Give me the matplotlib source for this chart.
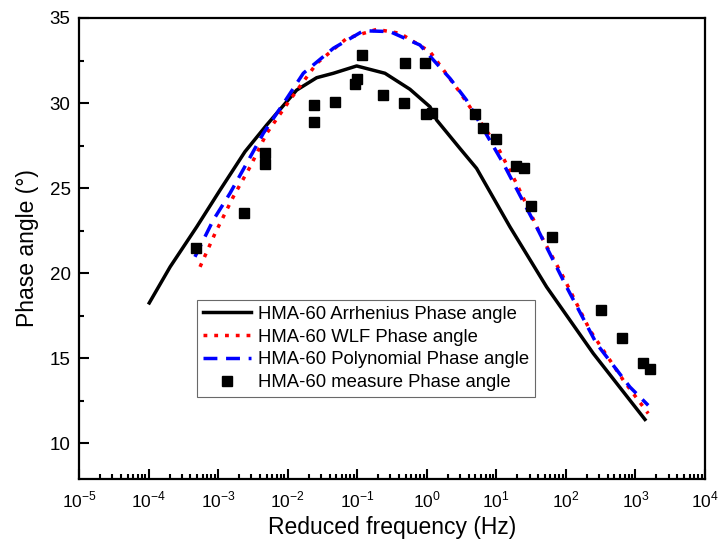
import numpy as np
import matplotlib
matplotlib.use('Agg')
import matplotlib.pyplot as plt
from matplotlib.ticker import FixedLocator, MultipleLocator, NullFormatter

plt.rcParams['font.family'] = ['Liberation Sans', 'DejaVu Sans']
plt.rcParams['mathtext.fontset'] = 'custom'
plt.rcParams['mathtext.rm'] = 'Liberation Sans'

# measured points
meas_f = [4.8e-4, 2.36e-3, 4.68e-3, 4.68e-3, 2.37e-2, 2.37e-2, 4.74e-2, 9.4e-2, 9.8e-2, 0.117,
          0.234, 0.47, 0.49, 0.94, 0.975, 1.2, 4.89, 6.35, 9.77, 19.5, 24.7, 31.8,
          63.8, 316, 640, 1280, 1600]
meas_y = [21.45, 23.51, 27.08, 26.41, 29.86, 28.86, 30.04, 31.1, 31.43, 32.82,
          30.49, 30.02, 32.37, 32.37, 29.33, 29.43, 29.33, 28.51, 27.88, 26.29, 26.19, 23.96,
          22.1, 17.82, 16.19, 14.72, 14.37]

# Arrhenius fit
arr_logf = [-3.99, -3.69, -3.308, -2.973, -2.614, -2.302, -1.871, -1.583, -1.343, -1.008,
            -0.601, -0.242, 0.046, 0.142, 0.477, 0.716, 1.196, 1.723, 2.394, 3.137]
arr_y = [18.25, 20.37, 22.72, 24.88, 27.14, 28.71, 30.76, 31.49, 31.75, 32.18,
         31.75, 30.81, 29.78, 29.0, 27.33, 26.16, 22.72, 19.19, 15.28, 11.4]

# WLF fit
wlf_logf = [-3.26, -3.045, -2.782, -2.54, -2.302, -1.967, -1.583, -1.152, -0.72, -0.385,
            0.046, 0.453, 0.716, 1.004, 1.29, 1.65, 1.962, 2.345, 2.825, 3.184]
wlf_y = [20.37, 22.33, 24.49, 26.25, 28.22, 30.18, 32.33, 33.8, 34.33, 34.1,
         33.02, 30.76, 29.2, 27.53, 25.27, 22.14, 19.78, 16.65, 13.71, 11.75]

# Polynomial fit
pol_logf = [-3.333, -3.07, -2.83, -2.59, -2.35, -2.06, -1.775, -1.343, -0.91, -0.53,
            -0.098, 0.333, 0.57, 1.1, 1.577, 2.01, 2.44, 2.92, 3.184]
pol_y = [20.96, 23.12, 24.69, 26.45, 28.22, 29.98, 31.75, 33.22, 34.25, 34.2,
         33.41, 31.45, 30.18, 26.45, 22.72, 19.19, 15.86, 13.31, 12.23]

decades = list(range(-5, 5))

fig = plt.figure(figsize=(7.19, 5.45), dpi=100)
ax = fig.add_axes([0.1099, 0.1211, 0.8706, 0.8459])

ax.plot(10 ** np.array(arr_logf), arr_y, color='black', lw=2.5, label='HMA-60 Arrhenius Phase angle')
ax.plot(10 ** np.array(wlf_logf), wlf_y, color='red', lw=2.5, linestyle=(0, (1.1, 2)),
        label='HMA-60 WLF Phase angle')
ax.plot(10 ** np.array(pol_logf), pol_y, color='blue', lw=2.5, linestyle=(0, (4, 2.5)),
        label='HMA-60 Polynomial Phase angle')
ax.plot(meas_f, meas_y, 's', color='black', ms=7, label='HMA-60 measure Phase angle')

ax.set_xscale('log')
ax.set_xlim(1e-5, 1e4)
ax.set_ylim(7.9, 35)
ax.set_xticks([10.0 ** d for d in decades])
ax.set_xticklabels(['$10^{%d}$' % d for d in decades])
minors = [m * 10.0 ** d for d in decades[:-1] for m in range(2, 10)]
ax.xaxis.set_minor_locator(FixedLocator(minors))
ax.xaxis.set_minor_formatter(NullFormatter())
ax.set_yticks([10, 15, 20, 25, 30, 35])
ax.yaxis.set_minor_locator(MultipleLocator(2.5))

ax.tick_params(which='both', direction='in', top=False, right=False, width=1.5)
ax.tick_params(axis='x', labelsize=12.5, pad=8)
ax.tick_params(axis='y', labelsize=13.5, pad=6)
ax.tick_params(which='major', length=7)
ax.tick_params(which='minor', length=3.5)
for s in ax.spines.values():
    s.set_linewidth(1.6)

ax.set_xlabel('Reduced frequency (Hz)', fontsize=16.5)
ax.set_ylabel('Phase angle (°)', fontsize=16.5, labelpad=8)

leg = ax.legend(loc='upper left', bbox_to_anchor=(0.1885, 0.388), borderaxespad=0,
                fontsize=13.3, frameon=True, fancybox=False, edgecolor='#444444',
                handlelength=2.6, labelspacing=0.32, borderpad=0.3, handletextpad=0.4)
leg.get_frame().set_linewidth(0.8)

fig.savefig('out.png', dpi=100)
